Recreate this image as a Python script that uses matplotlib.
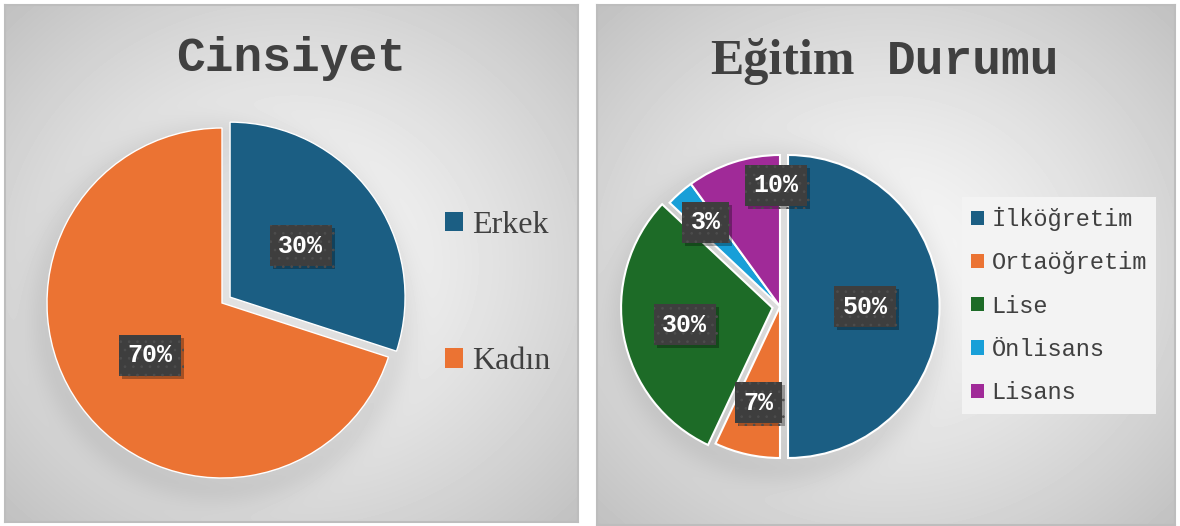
import numpy as np
import matplotlib
matplotlib.use("Agg")
import matplotlib.pyplot as plt
import matplotlib.patches as mpatches
import matplotlib.patheffects as pe

W, H = 1180, 526

# data
gender_labels = ["Erkek", "Kadın"]
gender_values = [30, 70]
gender_colors = ["#1B5E83", "#EB7333"]

edu_labels = ["İlköğretim", "Ortaöğretim", "Lise", "Önlisans", "Lisans"]
edu_values = [50, 7, 30, 3, 10]
edu_colors = ["#1B5E83", "#EB7333", "#1D6B27", "#189FD8", "#A02A98"]

TXT = "#404040"
MONO = "Liberation Mono"
SERIF = "Liberation Serif"
plt.rcParams["hatch.linewidth"] = 0.7


def px_axes(fig, x0, y0, w, h, z=1):
    return fig.add_axes([x0 / W, 1 - (y0 + h) / H, w / W, h / H], zorder=z)


def panel(fig, x0, y0, w, h, shadow):
    ax = px_axes(fig, x0, y0, w, h, z=0)
    yy, xx = np.mgrid[0:h, 0:w].astype(float)
    xn = (xx - w / 2) / (w / 2)
    yn = (yy - h / 2) / (h / 2)
    d = np.sqrt(xn ** 2 + yn ** 2) / np.sqrt(2)
    img = 0.975 - 0.22 * d ** 1.3
    # soft drop shadow under the pie
    sx, sy, sr = shadow
    ds = np.sqrt((xx + x0 - sx) ** 2 + (yy + y0 - sy - 8) ** 2) - sr
    img -= 0.07 * np.exp(-np.clip(ds, 0, None) ** 2 / (2 * 14 ** 2))
    ax.imshow(img, cmap="gray", vmin=0, vmax=1, aspect="auto",
              extent=(0, 1, 0, 1), interpolation="bilinear")
    ax.set_xticks([])
    ax.set_yticks([])
    for s in ax.spines.values():
        s.set_color("#BDBDBD")
        s.set_linewidth(1.5)
    return ax


def pie_axes(fig, cx, cy, half):
    return px_axes(fig, cx - half, cy - half, 2 * half, 2 * half, z=2)


def fix_limits(ax, r, half):
    lim = half / r
    ax.set_xlim(-lim, lim)
    ax.set_ylim(-lim, lim)
    ax.set_aspect("equal")
    ax.axis("off")


def add_labels(ax, wedges, values, dists, shifts):
    for w, v, dist, sh in zip(wedges, values, dists, shifts):
        ang = np.deg2rad((w.theta1 + w.theta2) / 2 + sh)
        x = w.center[0] + dist * np.cos(ang)
        y = w.center[1] + dist * np.sin(ang)
        t = ax.text(x, y, f"{v}%", ha="center", va="center", color="white",
                    fontsize=18, fontweight="bold", family=MONO, zorder=5,
                    bbox=dict(boxstyle="square,pad=0.34", facecolor="#3E3E3E",
                              edgecolor="#4D4D4D", hatch="..", linewidth=0))
        t.get_bbox_patch().set_path_effects(
            [pe.withSimplePatchShadow(offset=(2, -2), shadow_rgbFace="black", alpha=0.3)])


fig = plt.figure(figsize=(W / 100, H / 100), dpi=100)
fig.patch.set_facecolor("white")

panel(fig, 5, 5, 573, 517, (222, 303, 175))
panel(fig, 597, 5, 578, 520, (780, 306, 152))

# left pie: Cinsiyet
ax1 = pie_axes(fig, 222, 303, 200)
w1, _ = ax1.pie(gender_values, colors=gender_colors, startangle=90, counterclock=False,
                explode=[0.057, 0], radius=1,
                wedgeprops=dict(edgecolor="white", linewidth=1.0))
fix_limits(ax1, 175, 200)
add_labels(ax1, w1, gender_values, [0.5, 0.51], [0, 0])

fig.text(291 / W, 1 - 71 / H, "Cinsiyet", ha="center", va="baseline",
         fontsize=34.5, fontweight="bold", family=MONO, color=TXT)

h1 = [mpatches.Patch(facecolor=c) for c in gender_colors]
fig.legend(h1, gender_labels, loc="center left", bbox_to_anchor=(445 / W, 1 - 293.5 / H),
           frameon=False, borderpad=0, borderaxespad=0, handlelength=0.55, handleheight=0.55,
           handletextpad=0.3, labelspacing=3.37, labelcolor=TXT,
           prop=dict(family=SERIF, size=23))

# right pie: Eğitim Durumu
ax2 = pie_axes(fig, 780, 306.5, 180)
w2, _ = ax2.pie(edu_values, colors=edu_colors, startangle=90, counterclock=False,
                explode=[0.053, 0, 0.05, 0, 0], radius=1,
                wedgeprops=dict(edgecolor="white", linewidth=1.5))
fix_limits(ax2, 151.5, 180)
add_labels(ax2, w2, edu_values, [0.51, 0.65, 0.59, 0.74, 0.8], [0, 0, 0, 0, -16])

fig.text(855 / W, 1 - 74 / H, "Eğitim", ha="right", va="baseline",
         fontsize=36, fontweight="bold", family=SERIF, color=TXT)
fig.text(887 / W, 1 - 74 / H, "Durumu", ha="left", va="baseline",
         fontsize=34.5, fontweight="bold", family=MONO, color=TXT)

h2 = [mpatches.Patch(facecolor=c) for c in edu_colors]
fig.legend(h2, edu_labels, loc="center left", bbox_to_anchor=(962 / W, 1 - 305.5 / H),
           frameon=True, fancybox=False, facecolor="#F3F3F3", edgecolor="none",
           framealpha=1, borderpad=0.4, borderaxespad=0, handlelength=0.55,
           handleheight=0.55, handletextpad=0.3, labelspacing=0.86, labelcolor=TXT,
           prop=dict(family=MONO, size=17))

fig.savefig("out.png", dpi=100)
